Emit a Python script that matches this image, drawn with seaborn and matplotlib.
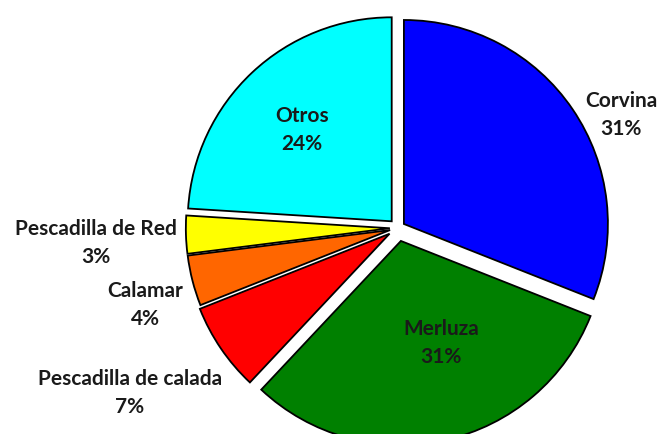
import matplotlib
matplotlib.use("Agg")
import matplotlib.pyplot as plt
import seaborn as sns

categories = ["Corvina", "Merluza", "Pescadilla de calada", "Calamar", "Pescadilla de Red", "Otros"]
values = [31, 31, 7, 4, 3, 24]
colors = ["#0000FF", "#008000", "#FF0000", "#FF6600", "#FFFF00", "#00FFFF"]
explode = [0.035, 0.065, 0.05, 0.04, 0.04, 0.045]
# label positions in pixel coords (x, y from top)
label_pos = [(621, 115), (441, 343), (130, 393), (145, 305), (96, 243), (302, 130)]

sns.set_theme(style="white")
plt.rcParams['font.family'] = ['Lato', 'DejaVu Sans']

W, H = 661, 434
fig = plt.figure(figsize=(W / 100, H / 100), dpi=100)
ax = fig.add_axes([0, 0, 1, 1])

cx, cy, r = 398, H - 228, 204
ax.pie(values, colors=colors, explode=[e * r for e in explode], startangle=90,
       counterclock=False, center=(cx, cy), radius=r, frame=True,
       wedgeprops=dict(edgecolor="black", linewidth=1.3))
ax.set_xlim(0, W)
ax.set_ylim(0, H)
ax.set_aspect('equal')
ax.axis('off')

for cat, val, (x, y) in zip(categories, values, label_pos):
    ax.text(x, H - y, f"{cat}\n{val}%", ha="center", va="center", fontsize=15,
            fontweight="bold", color="#1a1a1a", linespacing=1.45)

fig.savefig("out.png", dpi=100)
